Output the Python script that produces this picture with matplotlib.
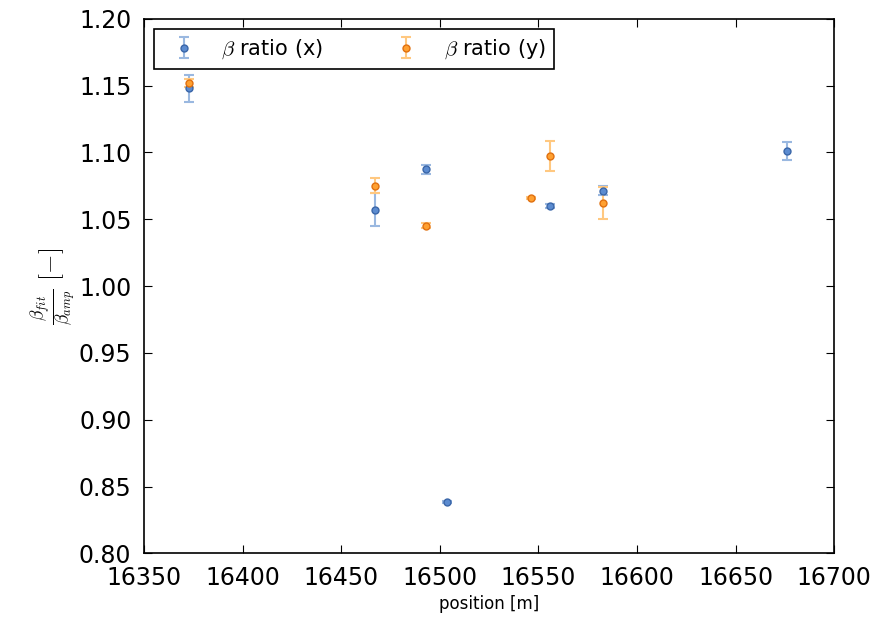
import numpy as np
import matplotlib
matplotlib.use("Agg")
import matplotlib.pyplot as plt

# данные
pos_x = [16373, 16467, 16493, 16503.5, 16556, 16583, 16676]
ratio_x = [1.1479, 1.0570, 1.0873, 0.8383, 1.0600, 1.0714, 1.1008]
err_x = [0.0102, 0.0123, 0.0034, 0.0010, 0.0015, 0.0032, 0.0067]

pos_y = [16373, 16467, 16493, 16546, 16556, 16583]
ratio_y = [1.1516, 1.0749, 1.0452, 1.0659, 1.0976, 1.0619]
err_y = [0.0030, 0.0056, 0.0020, 0.0008, 0.0112, 0.0120]

plt.rcParams['mathtext.fontset'] = 'cm'
plt.rcParams['xtick.direction'] = 'in'
plt.rcParams['ytick.direction'] = 'in'
plt.rcParams['xtick.top'] = True
plt.rcParams['ytick.right'] = True
plt.rcParams['xtick.major.size'] = 6
plt.rcParams['ytick.major.size'] = 6

fig = plt.figure(figsize=(8.8, 6.26), dpi=100)
ax = fig.add_axes([0.1636, 0.1161, 0.948 - 0.1636, 0.970 - 0.1161])

ax.errorbar(pos_x, ratio_x, yerr=err_x, fmt='o', ms=5, mfc='#5b8bd0', mec='#3a66a8',
            ecolor='#9ab8e0', elinewidth=1.5, capsize=3.5, capthick=1.5,
            label=r'$\beta$ ratio (x)')
ax.errorbar(pos_y, ratio_y, yerr=err_y, fmt='o', ms=5, mfc='#ffa030', mec='#e07010',
            ecolor='#ffc880', elinewidth=1.5, capsize=3.5, capthick=1.5,
            label=r'$\beta$ ratio (y)')

ax.set_xlim(16350, 16700)
ax.set_ylim(0.80, 1.20)
ax.set_xticks(np.arange(16350, 16701, 50))
ax.set_yticks(np.arange(0.80, 1.201, 0.05))
ax.yaxis.set_major_formatter(matplotlib.ticker.FormatStrFormatter('%.2f'))
ax.tick_params(labelsize=17, pad=9)
for s in ax.spines.values():
    s.set_linewidth(1.2)

ax.set_xlabel('position [m]', fontsize=12)
ax.set_ylabel(r'$\frac{\beta_{fit}}{\beta_{amp}}\ [-]$', fontsize=18, labelpad=0)

leg = ax.legend(loc='upper left', ncol=2, numpoints=1, fontsize=15, fancybox=False,
                edgecolor='black', framealpha=1, borderaxespad=0.5, columnspacing=3)
leg.get_frame().set_linewidth(1.2)

fig.savefig('out.png', dpi=100)
